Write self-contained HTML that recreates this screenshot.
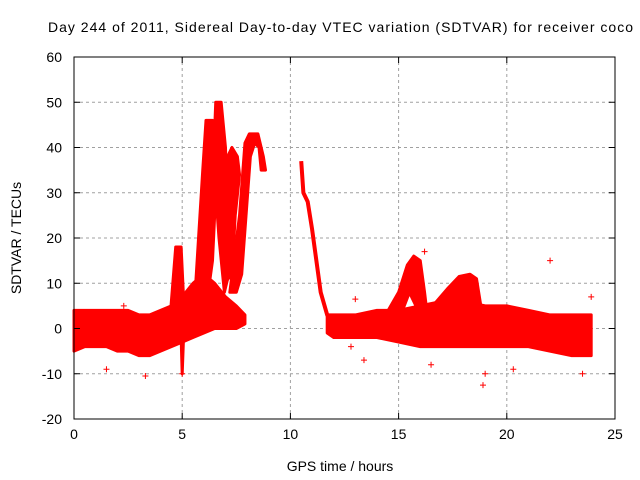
<!DOCTYPE html>
<html><head><meta charset="utf-8"><style>
body{margin:0;background:#fff}
svg{display:block;font-family:"Liberation Sans",sans-serif}
</style></head><body>
<svg id="c" width="640" height="480" viewBox="0 0 640 480">
<rect width="640" height="480" fill="#fff"/>
<g id="grid"></g><g id="marks"></g><g id="axes"></g>
<text x="48" y="32" font-size="14" textLength="585">Day 244 of 2011, Sidereal Day-to-day VTEC variation (SDTVAR) for receiver coco</text>
<text x="340" y="471" font-size="14" text-anchor="middle">GPS time / hours</text>
<text transform="translate(21,238) rotate(-90)" font-size="14" text-anchor="middle">SDTVAR / TECUs</text>
</svg>
<script>
const xTicks=[0,5,10,15,20,25];
const yTicks=[-20,-10,0,10,20,30,40,50,60];
const band1X=[0,0.5,1,1.5,2,2.5,3,3.5,4,4.5,5,5.5,6,6.5,7,7.5,7.9];
const band1Upper=[4,4,4,4,4,4,3,3,4,5,7,10,12,10,7,5,3];
const band1Lower=[-5,-4,-4,-4,-5,-5,-6,-6,-5,-4,-3,-2,-1,0,0,0,1];
const band2X=[11.7,12,13,14,15,16,17,18,19,20,21,22,23,23.9];
const band2Upper=[3,3,3,4,4,5,6,6,5,5,4,3,3,3];
const band2Lower=[-1,-2,-2,-2,-3,-4,-4,-4,-4,-4,-4,-5,-6,-6];
const spikeH=[4.45,4.7,4.95,5.1,5.0,4.95,5.05];
const spikeV=[3,18,18,3,-10,-2,3];
const lobeABH=[5.6,5.95,6.1,6.4,6.45,6.55,6.8,7.0,7.1,7.15,6.95,6.7,6.55,6.4,6.2];
const lobeABV=[8,35,46,46,38,50,50,40,25,12,8,20,30,15,8];
const lobeCH=[6.95,7.1,7.3,7.55,7.65,7.45,7.3];
const lobeCV=[10,38,40,38,34,25,12];
const lobeDH=[7.2,7.65,7.9,8.1,8.5,8.75,8.85,8.65,8.55,8.35,8.15,7.95,7.75,7.5];
const lobeDV=[8,25,41,43,43,38,35,35,40,41,38,25,12,8];
const decayH=[10.5,10.6,10.8,11,11.2,11.4,11.7,12];
const decayV=[37,30,28,22,15,8,3,1];
const hump1H=[14.4,15,15.4,15.7,16,16.2,16.3,15.9,15.5,15.1];
const hump1V=[3,8,14,16,15,8,4,4,8,3];
const hump2H=[16.4,17.3,17.8,18.3,18.6,18.8,18.5,17.5];
const hump2V=[4,9,11.5,12,11,5,3,3];
const outH=[1.5,3.3,5,13,13.4,22,18.9,19,23.5,23.9,20.3,16.2,12.8,2.3,16.5];
const outV=[-9,-10.5,-10,6.5,-7,15,-12.5,-10,-10,7,-9,17,-4,5,-8];

const X0=74,X1=615,Y0=419,Y1=57;
const sx=v=>X0+(v-0)/(25-0)*(X1-X0);
const sy=v=>Y0-(v+20)/(80)*(Y0-Y1);
const NS="http://www.w3.org/2000/svg";
function mk(tag,parent,attrs){const e=document.createElementNS(NS,tag);for(const k in attrs)e.setAttribute(k,attrs[k]);parent.appendChild(e);return e;}
const grid=document.getElementById('grid'),marks=document.getElementById('marks'),axes=document.getElementById('axes');
xTicks.forEach(t=>{
 if(t>0&&t<25){const g=mk('line',grid,{x1:sx(t),x2:sx(t),y1:Y0,y2:Y1,stroke:'#a0a0a0','stroke-dasharray':'3,3'});
 
 }
 const l=mk('text',axes,{x:sx(t),y:Y0+20,'font-size':14,'text-anchor':'middle'});l.textContent=t;
 
 
 mk('line',axes,{x1:sx(t),x2:sx(t),y1:Y0,y2:Y0-6,stroke:'#000'});
 mk('line',axes,{x1:sx(t),x2:sx(t),y1:Y1,y2:Y1+6,stroke:'#000'});
});
yTicks.forEach(t=>{
 if(t>-20&&t<60){const g=mk('line',grid,{x1:X0,x2:X1,y1:sy(t),y2:sy(t),stroke:'#a0a0a0','stroke-dasharray':'3,3'});
 
 }
 const l=mk('text',axes,{x:X0-12,y:sy(t)+5,'font-size':14,'text-anchor':'end'});l.textContent=t;
 
 
 mk('line',axes,{x1:X0,x2:X0+6,y1:sy(t),y2:sy(t),stroke:'#000'});
 mk('line',axes,{x1:X1,x2:X1-6,y1:sy(t),y2:sy(t),stroke:'#000'});
});
const fr=mk('rect',axes,{x:X0,y:Y1,width:X1-X0,height:Y0-Y1,fill:'none',stroke:'#000'});


function band(xs,up,lo,name){
 const pts=xs.map((x,i)=>sx(x)+','+sy(up[i])).concat(xs.map((x,i)=>[x,i]).reverse().map(([x,i])=>sx(x)+','+sy(lo[i])));
 const p=mk('polygon',marks,{points:pts.join(' '),fill:'#f00',stroke:'#f00','stroke-width':3,'stroke-linejoin':'round'});
 
 
}
function poly(hs,vs,name){
 const p=mk('polygon',marks,{points:hs.map((h,i)=>sx(h)+','+sy(vs[i])).join(' '),fill:'#f00',stroke:'#f00','stroke-width':3,'stroke-linejoin':'round'});
 
 
}
band(band1X,band1Upper,band1Lower,'noise-band-early');
band(band2X,band2Upper,band2Lower,'noise-band-late');
poly(spikeH,spikeV,'spike-5h');
poly(lobeABH,lobeABV,'peak-lobe-6h');
poly(lobeCH,lobeCV,'peak-lobe-7h');
poly(lobeDH,lobeDV,'peak-lobe-8h');
poly(hump1H,hump1V,'hump-15h');
poly(hump2H,hump2V,'hump-18h');
const dl=mk('polyline',marks,{points:decayH.map((h,i)=>sx(h)+','+sy(decayV[i])).join(' '),fill:'none',stroke:'#f00','stroke-width':4,'stroke-linejoin':'round'});


outH.forEach((h,i)=>{
 const x=sx(h),y=sy(outV[i]);
 const p=mk('path',marks,{d:`M${x-3},${y}H${x+3}M${x},${y-3}V${y+3}`,stroke:'#f00','stroke-width':1});
 
 
});
</script>
</body></html>
